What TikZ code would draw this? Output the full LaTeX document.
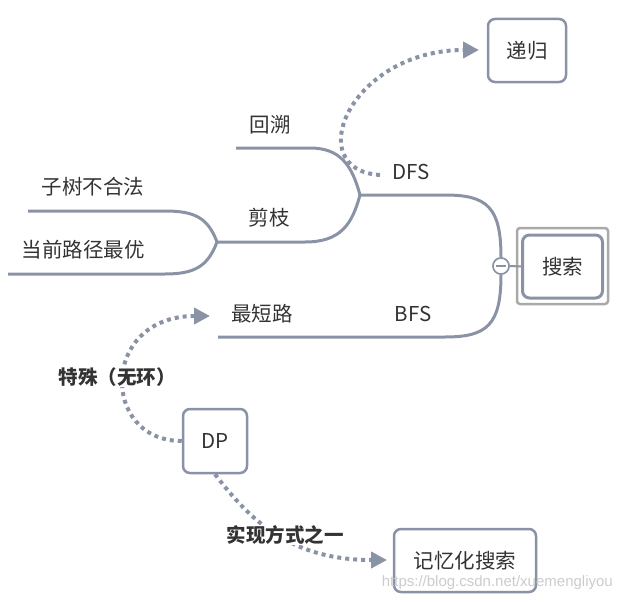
\documentclass[tikz,border=0pt]{standalone}
\usepackage{fontspec}
\setmainfont{Noto Sans CJK SC}
\newfontfamily\wmfont{Liberation Sans}
\usetikzlibrary{arrows.meta}
\definecolor{linec}{HTML}{8A93A6}
\definecolor{txt}{HTML}{333333}
\definecolor{outerc}{HTML}{A9A9A9}
\begin{document}
\begin{tikzpicture}[x=1pt,y=-1pt,
  branch/.style={draw=linec,line width=3pt},
  lbl/.style={text=txt,font=\fontsize{20.5}{24}\selectfont,inner sep=0pt},
  box/.style={draw=linec,line width=2.5pt,rounded corners=7pt,fill=white,text=txt,font=\fontsize{20.5}{24}\selectfont},
  rel/.style={draw=linec,line width=4pt,dash pattern=on 4pt off 4pt,-{Triangle[length=16pt,width=16pt]}},
  rellbl/.style={fill=white,text=txt,font=\bfseries\fontsize{19.5}{22}\selectfont,inner sep=1pt}]
\useasboundingbox (0,0) rectangle (621,602);

% branch forks
\coordinate (dfsF) at (360,195);
\coordinate (jzF) at (217,242);
\coordinate (bfsE) at (218,337);
\coordinate (hsE) at (236,148);
\coordinate (zsE) at (28,211);
\coordinate (dqE) at (8,274);
\coordinate (s1) at (380,175);
\coordinate (t1) at (479,50);
\coordinate (t2) at (210,316);
\coordinate (t3) at (387,560);

% collapse circle
\node[circle,draw=linec,line width=1.5pt,fill=white,minimum size=16pt,inner sep=0pt] (col) at (501,266) {};

% branches
\draw[branch] (col.north) .. controls (501,207) and (487,195) .. (445,195) -- (dfsF);
\draw[branch] (col.south) .. controls (501,325) and (487,337) .. (445,337) -- (bfsE);
\draw[branch] (dfsF) .. controls (352,165) and (340,148) .. (310,148) -- (hsE);
\draw[branch] (dfsF) .. controls (352,225) and (340,242) .. (305,242) -- (jzF);
\draw[branch] (jzF) .. controls (208,218) and (195,211) .. (165,211) -- (zsE);
\draw[branch] (jzF) .. controls (208,266) and (195,274) .. (165,274) -- (dqE);

% redraw circle on top
\node[circle,draw=linec,line width=1.5pt,fill=white,minimum size=16pt,inner sep=0pt] (col2) at (501,266) {};
\draw[linec,line width=1.5pt] (496,266) -- (506,266);

% root
\draw[outerc,line width=2.5pt,rounded corners=3pt] (517,228) rectangle (608,304);
\node[box,line width=3pt,minimum width=80pt,minimum height=63pt] (root) at (562.5,266.5) {搜索};
\draw[linec,line width=2pt] (col2.east) -- (root.west);

% labels on branches
\node[lbl] (dfs) at (411,172) {DFS};
\node[lbl] (bfs) at (413,314) {BFS};
\node[lbl] (hs) at (270,125) {回溯};
\node[lbl] (jz) at (269,218) {剪枝};
\node[lbl] (zs) at (93,187) {子树不合法};
\node[lbl] (dq) at (83,250) {当前路径最优};
\node[lbl] (zdl) at (262,314) {最短路};

% floating boxes
\node[box,minimum width=78pt,minimum height=63pt] (dg) at (527,50.5) {递归};
\node[box,minimum width=64pt,minimum height=64pt] (dp) at (215,441) {DP};
\node[box,minimum width=142pt,minimum height=63pt] (jy) at (465,560.5) {记忆化搜索};

% relationships
\draw[rel] (s1) .. controls (300,170) and (350,50) .. (t1);
\draw[rel] (dp.west) .. controls (100,441) and (100,316) .. (t2);
\draw[rel] (dp.south) .. controls (250,520) and (290,560) .. (t3);
\node[rellbl] (l1) at (117,377) {特殊（无环）};
\node[rellbl] (l2) at (285,535) {实现方式之一};

% watermark
\node[text=black!20,font=\wmfont\fontsize{15}{18}\selectfont,anchor=east,inner sep=0pt] (wm) at (613,583) {https://blog.csdn.net/xuemengliyou};
\end{tikzpicture}
\end{document}
